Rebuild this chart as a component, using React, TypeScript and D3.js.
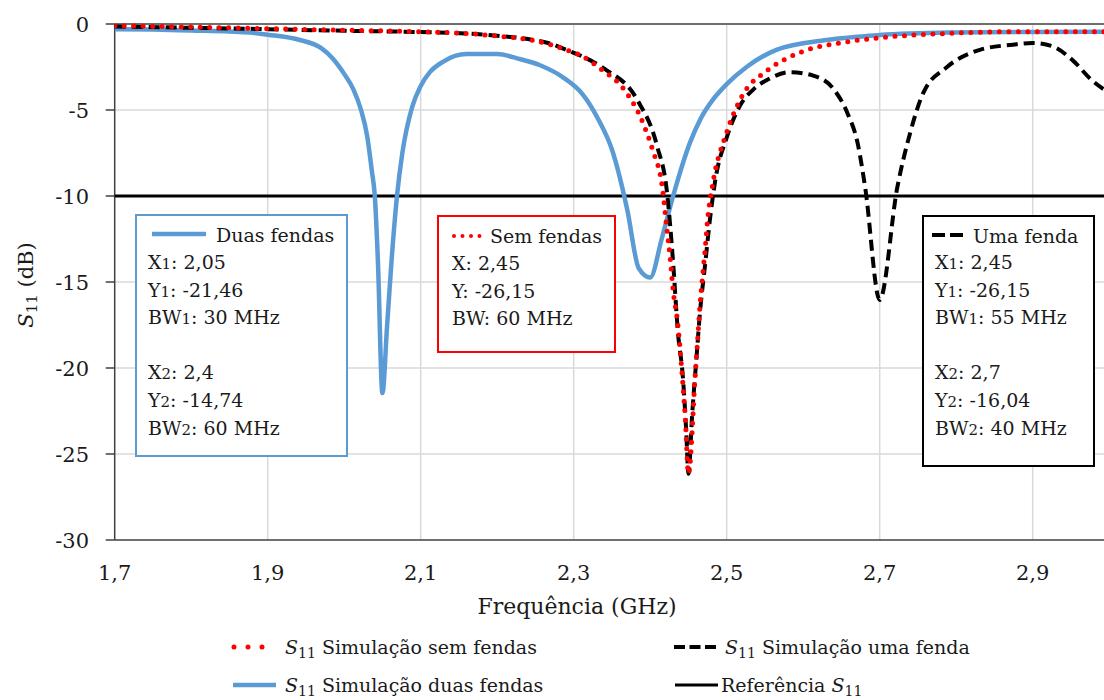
import React from 'react';
import * as d3 from 'd3';

// ---- Data ----
const freqDuas = [1.70, 1.75, 1.80, 1.85, 1.877, 1.90, 1.942, 1.97, 1.985, 2.00, 2.012, 2.022, 2.030, 2.036, 2.040, 2.044, 2.05, 2.056, 2.062, 2.069, 2.076, 2.089, 2.10, 2.112, 2.129, 2.16, 2.20, 2.226, 2.256, 2.286, 2.312, 2.334, 2.35, 2.37, 2.385, 2.40, 2.415, 2.43, 2.452, 2.466, 2.482, 2.50, 2.526, 2.565, 2.63, 2.70, 2.79, 2.90, 3.00];
const s11Duas = [-0.30, -0.32, -0.38, -0.44, -0.50, -0.62, -0.93, -1.4, -2.0, -2.9, -3.8, -5.0, -6.5, -8.5, -10.0, -13.7, -21.46, -17.6, -13.7, -10.0, -7.5, -4.8, -3.6, -2.8, -2.2, -1.75, -1.75, -2.0, -2.4, -3.1, -4.1, -5.7, -7.3, -10.8, -14.2, -14.74, -12.5, -10.0, -6.9, -5.5, -4.4, -3.5, -2.5, -1.5, -0.93, -0.64, -0.5, -0.46, -0.45];

const freqSem = [1.70, 1.80, 1.877, 1.985, 2.10, 2.16, 2.20, 2.247, 2.27, 2.29, 2.308, 2.338, 2.364, 2.391, 2.403, 2.416, 2.422, 2.426, 2.43, 2.436, 2.44, 2.443, 2.446, 2.45, 2.459, 2.462, 2.465, 2.468, 2.472, 2.475, 2.481, 2.50, 2.52, 2.553, 2.583, 2.613, 2.648, 2.70, 2.788, 2.874, 3.00];
const s11Sem = [-0.10, -0.18, -0.25, -0.35, -0.45, -0.55, -0.70, -0.95, -1.2, -1.5, -1.8, -2.7, -3.7, -5.8, -7.3, -9.55, -12.0, -13.55, -15.5, -17.4, -19.4, -21.1, -23.0, -26.15, -20.3, -18.4, -16.4, -14.9, -13.0, -11.4, -9.5, -6.3, -4.2, -2.7, -1.9, -1.4, -1.1, -0.8, -0.55, -0.45, -0.45];

const freqUma = [1.70, 1.80, 1.877, 1.985, 2.10, 2.16, 2.20, 2.247, 2.27, 2.29, 2.312, 2.34, 2.383, 2.409, 2.422, 2.43, 2.436, 2.443, 2.447, 2.45, 2.455, 2.46, 2.465, 2.472, 2.478, 2.485, 2.50, 2.518, 2.535, 2.555, 2.583, 2.613, 2.64, 2.658, 2.671, 2.681, 2.70, 2.723, 2.74, 2.757, 2.788, 2.831, 2.874, 2.90, 2.926, 2.952, 2.978, 3.00];
const s11Uma = [-0.15, -0.22, -0.28, -0.38, -0.47, -0.55, -0.68, -0.93, -1.15, -1.5, -1.9, -2.6, -4.4, -7.1, -9.8, -13.9, -17.8, -20.7, -23.6, -26.15, -22.6, -19.7, -16.8, -13.9, -11.4, -9.1, -6.6, -4.7, -3.8, -3.2, -2.8, -3.0, -3.8, -5.2, -6.9, -9.5, -16.04, -9.5, -6.3, -4.0, -2.5, -1.5, -1.2, -1.1, -1.3, -2.1, -3.3, -4.0];

const referenceLevel = -10;
const xTicks = [1.7, 1.9, 2.1, 2.3, 2.5, 2.7, 2.9];
const yTicks = [0, -5, -10, -15, -20, -25, -30];

const boxDuas = [['X', '1', ': 2,05'], ['Y', '1', ': -21,46'], ['BW', '1', ': 30 MHz'], null, ['X', '2', ': 2,4'], ['Y', '2', ': -14,74'], ['BW', '2', ': 60 MHz']];
const boxSem = [['X', '', ': 2,45'], ['Y', '', ': -26,15'], ['BW', '', ': 60 MHz']];
const boxUma = [['X', '1', ': 2,45'], ['Y', '1', ': -26,15'], ['BW', '1', ': 55 MHz'], null, ['X', '2', ': 2,7'], ['Y', '2', ': -16,04'], ['BW', '2', ': 40 MHz']];

const W = 1104, H = 700;
const FONT = '"DejaVu Serif", serif';
const BLUE = '#5b9bd5';
const RED = '#ff0000';

const fmt = (v: number) => String(v).replace('.', ',');

function BoxText({ x, y0, lines }: { x: number; y0: number; lines: any[] }) {
  return (
    <g>
      {lines.map((l, i) =>
        l ? (
          <text key={i} x={x} y={y0 + i * 27.6} fontFamily={FONT} fontSize={19} fill="#1a1a1a">
            {l[0]}
            {l[1] ? <tspan fontSize={15}>{l[1]}</tspan> : null}
            {l[2]}
          </text>
        ) : null
      )}
    </g>
  );
}

export default function App() {
  const x = d3.scaleLinear().domain([1.7, 3.0]).range([114.7, 1109.2]);
  const y = d3.scaleLinear().domain([0, -30]).range([24, 540]);
  const line = (fs: number[], vs: number[]) =>
    d3
      .line<number>()
      .x((_, i) => x(fs[i]))
      .y((v) => y(v))
      .curve(d3.curveMonotoneX)(vs) as string;

  const [x0, x1] = x.range();
  const [yTop, yBot] = y.range();

  return (
    <svg width={W} height={H} style={{ position: 'absolute', left: 0, top: 0, background: '#fff' }}>
      <defs>
        <clipPath id="plotclip">
          <rect x={x0} y={yTop - 4} width={x1 - x0} height={yBot - yTop + 4} />
        </clipPath>
      </defs>
      <rect x={0} y={0} width={W} height={H} fill="#fff" />
      {/* grid */}
      {xTicks.slice(1).map((t) => (
        <line key={'gx' + t} x1={x(t)} x2={x(t)} y1={yTop} y2={yBot} stroke="#d9d9d9" strokeWidth={1.5} />
      ))}
      {yTicks.slice(1, -1).map((t) => (
        <line key={'gy' + t} x1={x0} x2={x1} y1={y(t)} y2={y(t)} stroke="#d9d9d9" strokeWidth={1.5} />
      ))}
      {/* top border */}
      <line x1={x0} x2={x1} y1={yTop} y2={yTop} stroke="#6e6e6e" strokeWidth={1.8} />
      {/* axes */}
      <line x1={x0} x2={x0} y1={yTop} y2={yBot} stroke="#404040" strokeWidth={1.5} />
      <line x1={x0} x2={x1} y1={yBot} y2={yBot} stroke="#404040" strokeWidth={1.5} />
      {yTicks.map((t) => (
        <g key={'ty' + t}>
          <line x1={x0 - 9} x2={x0} y1={y(t)} y2={y(t)} stroke="#404040" strokeWidth={1.5} />
          <text x={89} y={y(t) + 7.5} textAnchor="end" fontFamily={FONT} fontSize={21} fill="#1a1a1a">
            {fmt(t)}
          </text>
        </g>
      ))}
      {xTicks.map((t) => (
        <text key={'tx' + t} x={x(t)} y={580} textAnchor="middle" fontFamily={FONT} fontSize={21} fill="#1a1a1a">
          {fmt(t)}
        </text>
      ))}
      {/* reference line */}
      <line x1={x0} x2={x1} y1={y(referenceLevel)} y2={y(referenceLevel)} stroke="#000" strokeWidth={3} />
      {/* curves */}
      <g clipPath="url(#plotclip)" fill="none">
        <path d={line(freqDuas, s11Duas)} stroke={BLUE} strokeWidth={4.5} strokeLinejoin="round" />
        <path d={line(freqUma, s11Uma)} stroke="#000" strokeWidth={4} strokeDasharray="11 6" />
        <path d={line(freqSem, s11Sem)} stroke={RED} strokeWidth={5} strokeDasharray="0 9.5" strokeLinecap="round" />
      </g>
      {/* axis titles */}
      <text x={577} y={614} textAnchor="middle" fontFamily={FONT} fontSize={22} fill="#1a1a1a">
        Frequência (GHz)
      </text>
      <text transform="translate(33,285) rotate(-90)" textAnchor="middle" fontFamily={FONT} fontSize={21} fill="#1a1a1a">
        <tspan fontStyle="italic">S</tspan>
        <tspan fontSize={15} dy={4}>11</tspan>
        <tspan dy={-4}> (dB)</tspan>
      </text>

      {/* annotation box: duas fendas */}
      <rect x={136} y={215} width={211} height={241} fill="#fff" stroke={BLUE} strokeWidth={2} />
      <line x1={152} x2={206} y1={234} y2={234} stroke={BLUE} strokeWidth={4.5} />
      <text x={216} y={242} fontFamily={FONT} fontSize={19} fill="#1a1a1a">Duas fendas</text>
      <BoxText x={148} y0={269} lines={boxDuas} />

      {/* annotation box: sem fendas */}
      <rect x={438} y={216} width={177} height={136} fill="#fff" stroke={RED} strokeWidth={2} />
      <line x1={454} x2={480} y1={236} y2={236} stroke={RED} strokeWidth={4} strokeDasharray="0 8.5" strokeLinecap="round" />
      <text x={490} y={243} fontFamily={FONT} fontSize={19} fill="#1a1a1a">Sem fendas</text>
      <BoxText x={452} y0={270} lines={boxSem} />

      {/* annotation box: uma fenda */}
      <rect x={923} y={216} width={171} height={250} fill="#fff" stroke="#000" strokeWidth={2} />
      <line x1={932} x2={963} y1={235} y2={235} stroke="#000" strokeWidth={4} strokeDasharray="13 5" />
      <text x={973} y={243} fontFamily={FONT} fontSize={19} fill="#1a1a1a">Uma fenda</text>
      <BoxText x={935} y0={269} lines={boxUma} />

      {/* legend */}
      <g fontFamily={FONT} fontSize={19} fill="#1a1a1a">
        <line x1={234} x2={276} y1={647} y2={647} stroke={RED} strokeWidth={5} strokeDasharray="0 14" strokeLinecap="round" />
        <text x={285} y={654}>
          <tspan fontStyle="italic">S</tspan>
          <tspan fontSize={14} dy={4}>11</tspan>
          <tspan dy={-4}> Simulação sem fendas</tspan>
        </text>
        <line x1={674} x2={716} y1={647} y2={647} stroke="#000" strokeWidth={4} strokeDasharray="11 4.5" />
        <text x={725} y={654}>
          <tspan fontStyle="italic">S</tspan>
          <tspan fontSize={14} dy={4}>11</tspan>
          <tspan dy={-4}> Simulação uma fenda</tspan>
        </text>
        <line x1={233} x2={276} y1={685} y2={685} stroke={BLUE} strokeWidth={4.5} />
        <text x={285} y={692}>
          <tspan fontStyle="italic">S</tspan>
          <tspan fontSize={14} dy={4}>11</tspan>
          <tspan dy={-4}> Simulação duas fendas</tspan>
        </text>
        <line x1={675} x2={718} y1={685} y2={685} stroke="#000" strokeWidth={3} />
        <text x={721} y={692}>
          Referência <tspan fontStyle="italic">S</tspan>
          <tspan fontSize={14} dy={4}>11</tspan>
        </text>
      </g>
    </svg>
  );
}
